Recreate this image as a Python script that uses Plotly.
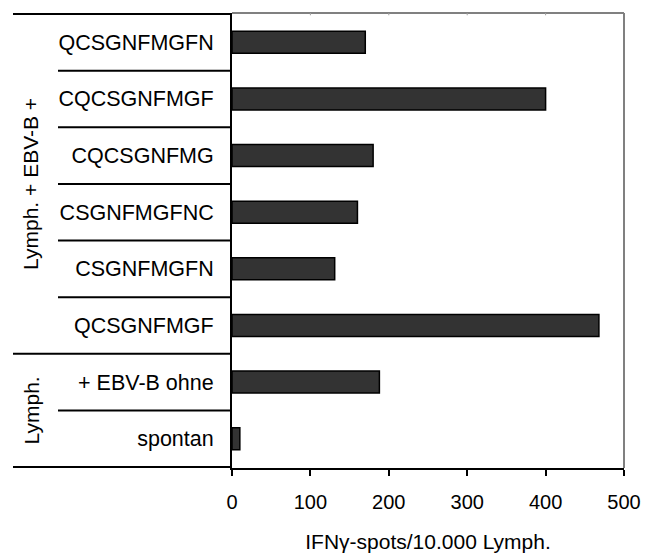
import plotly.graph_objects as go

categories = ["QCSGNFMGFN", "CQCSGNFMGF", "CQCSGNFMG", "CSGNFMGFNC",
              "CSGNFMGFN", "QCSGNFMGF", "+ EBV-B ohne", "spontan"]
values = [170, 400, 180, 160, 131, 468, 188, 10]
groups = [("Lymph. + EBV-B +", 0, 5), ("Lymph.", 6, 7)]
x_ticks = [0, 100, 200, 300, 400, 500]
x_title = "IFN\u03b3-spots/10.000 Lymph."

FONT = "Liberation Sans, Arial, sans-serif"

fig = go.Figure()
fig.add_trace(go.Bar(
    x=values, y=categories, orientation="h",
    marker=dict(color="#333333", line=dict(color="#000000", width=1.5)),
    hoverinfo="skip",
))

W, H = 646, 556
ml, mr, mt, mb = 232, 22, 13, 88
pw = W - ml - mr

def px_to_paper(x):
    return (x - ml) / pw

shapes = []
n = len(categories)
group_bounds = set()
for g, a, b in groups:
    group_bounds.add(a - 0.5)
    group_bounds.add(b + 0.5)
for i in range(n + 1):
    yb = i - 0.5
    long = yb in group_bounds
    shapes.append(dict(type="line", xref="paper", yref="y",
                       x0=px_to_paper(13 if long else 58), x1=0,
                       y0=yb, y1=yb,
                       line=dict(color="black", width=2)))
# gray top/right frame
shapes.append(dict(type="line", xref="paper", yref="paper", x0=0, x1=1, y0=1, y1=1,
                   line=dict(color="#808080", width=2)))
shapes.append(dict(type="line", xref="paper", yref="paper", x0=1, x1=1, y0=0, y1=1,
                   line=dict(color="#808080", width=2)))
for t in x_ticks[1:-1]:
    shapes.append(dict(type="line", xref="x", yref="paper", x0=t, x1=t, y0=1, y1=0.995,
                       line=dict(color="#a0a0a0", width=1)))

annotations = []
for g, a, b in groups:
    annotations.append(dict(text=g, xref="paper", yref="y",
                            x=px_to_paper(31), y=(a + b) / 2,
                            textangle=-90, showarrow=False,
                            font=dict(family=FONT, size=21, color="black"),
                            xanchor="center", yanchor="middle"))

fig.update_layout(
    width=W, height=H,
    margin=dict(l=ml, r=mr, t=mt, b=mb, autoexpand=False),
    paper_bgcolor="white", plot_bgcolor="white",
    showlegend=False,
    bargap=0.61,
    shapes=shapes,
    annotations=annotations,
    font=dict(family=FONT, size=20, color="black"),
    xaxis=dict(range=[0, 500], tickvals=x_ticks, ticks="outside", ticklen=6,
               tickwidth=2, tickcolor="black", showline=True, linecolor="black",
               linewidth=2, showgrid=False, zeroline=False, automargin=False,
               ticklabelstandoff=9,
               tickfont=dict(family=FONT, size=20, color="black"),
               title=dict(text=x_title, standoff=22,
                          font=dict(family=FONT, size=21, color="black"))),
    yaxis=dict(categoryorder="array", categoryarray=categories,
               autorange="reversed", showline=True, linecolor="black",
               linewidth=2, ticks="", showgrid=False, zeroline=False,
               ticklabelstandoff=12, automargin=False,
               tickfont=dict(family=FONT, size=21.5, color="black")),
)

fig.write_html("out.html")
